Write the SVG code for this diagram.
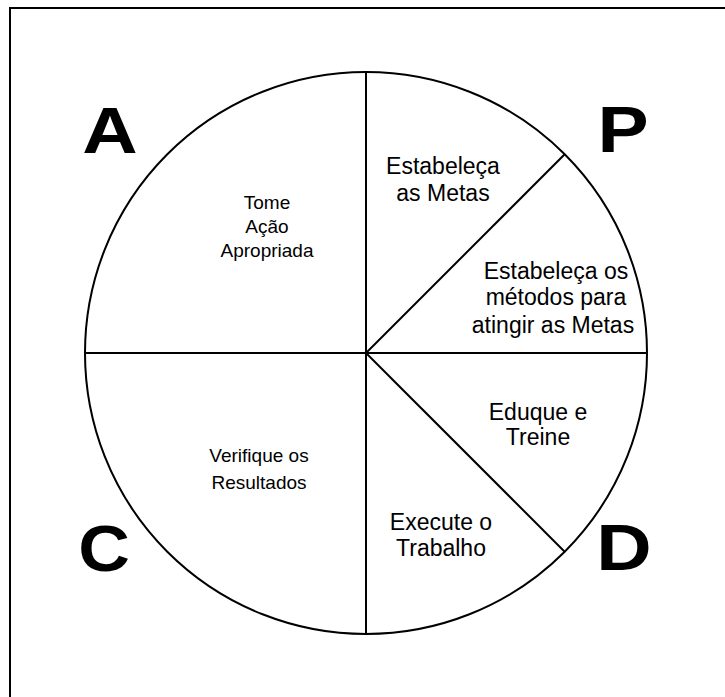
<svg xmlns="http://www.w3.org/2000/svg" width="725" height="697" viewBox="0 0 725 697">
<style>
.ln{stroke:#000;stroke-width:2;fill:none}
.t{font-family:"Liberation Sans",Arial,sans-serif;font-size:19px;text-anchor:middle;fill:#000}
.r{font-size:23px}
.big{font-family:"Liberation Sans",Arial,sans-serif;font-size:65px;font-weight:bold;text-anchor:middle;fill:#000}
</style>
<rect x="0" y="0" width="725" height="697" fill="#fff"/>
<rect x="10" y="8" width="740" height="720" fill="none" stroke="#000" stroke-width="2"/>
<g id="connectors">
<circle class="ln" cx="366" cy="353" r="281"/>
<line class="ln" x1="366" y1="72" x2="366" y2="634"/>
<line class="ln" x1="85" y1="353" x2="647" y2="353"/>
<line class="ln" x1="366" y1="353" x2="564.7" y2="154.3"/>
<line class="ln" x1="366" y1="353" x2="564.7" y2="551.7"/>
</g>
<g id="A"><text class="big" transform="translate(110,153) scale(1.18,1)">A</text></g>
<g id="P"><text class="big" transform="translate(623,152) scale(1.18,1)">P</text></g>
<g id="C"><text class="big" transform="translate(104,571) scale(1.1,1)">C</text></g>
<g id="D"><text class="big" transform="translate(624,570) scale(1.18,1)">D</text></g>
<g id="n1"><text class="t" x="267" y="209">Tome</text><text class="t" x="267" y="233">Ação</text><text class="t" x="267" y="257">Apropriada</text></g>
<g id="n2"><text class="t r" x="443" y="174">Estabeleça</text><text class="t r" x="443" y="201">as Metas</text></g>
<g id="n3"><text class="t r" x="556" y="279">Estabeleça os</text><text class="t r" x="556" y="305">métodos para</text><text class="t r" x="553" y="333">atingir as Metas</text></g>
<g id="n4"><text class="t r" x="538" y="420">Eduque e</text><text class="t r" x="538" y="445">Treine</text></g>
<g id="n5"><text class="t" x="259" y="462">Verifique os</text><text class="t" x="259" y="489">Resultados</text></g>
<g id="n6"><text class="t r" x="441" y="530">Execute o</text><text class="t r" x="441" y="556">Trabalho</text></g>
</svg>
